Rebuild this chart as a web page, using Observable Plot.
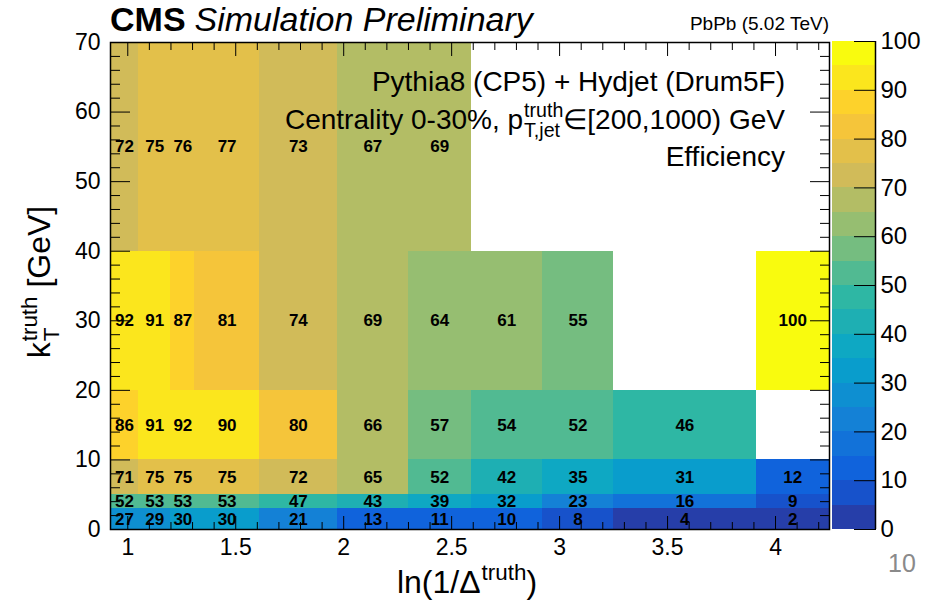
<!DOCTYPE html>
<html>
<head>
<meta charset="utf-8">
<script src="https://cdn.jsdelivr.net/npm/d3@7"></script>
<script src="https://cdn.jsdelivr.net/npm/@observablehq/plot@0.6"></script>
<style>
  body { margin: 0; background: #fff; }
  #chart { position: relative; width: 932px; height: 601px; overflow: hidden; background: #fff;
           font-family: "Liberation Sans", Arial, Helvetica, sans-serif; }
  #chart svg { position: absolute; top: 0; }
</style>
</head>
<body>
<div id="chart"></div>
<script>
// Bin edges: ln(1/Δ_truth) columns and k_T^truth rows (GeV)
const xEdges = [0.92, 1.05, 1.20, 1.31, 1.61, 1.97, 2.30, 2.59, 2.92, 3.25, 3.91, 4.25];
const yEdges = [0, 3, 5, 10, 20, 40, 70];

// Efficiency (%) per k_T row, listed column by column; null = empty bin
const eff_kT_0_3   = [27, 29, 30, 30, 21, 13, 11, 10, 8, 4, 2];
const eff_kT_3_5   = [52, 53, 53, 53, 47, 43, 39, 32, 23, 16, 9];
const eff_kT_5_10  = [71, 75, 75, 75, 72, 65, 52, 42, 35, 31, 12];
const eff_kT_10_20 = [86, 91, 92, 90, 80, 66, 57, 54, 52, 46, null];
const eff_kT_20_40 = [92, 91, 87, 81, 74, 69, 64, 61, 55, null, 100];
const eff_kT_40_70 = [72, 75, 76, 77, 73, 67, 69, null, null, null, null];

// Axis ticks
const xMajorTicks = [1, 1.5, 2, 2.5, 3, 3.5, 4];
const xMinorTicks = [1.1, 1.2, 1.3, 1.4, 1.6, 1.7, 1.8, 1.9, 2.1, 2.2, 2.3, 2.4, 2.6, 2.7, 2.8, 2.9,
                     3.1, 3.2, 3.3, 3.4, 3.6, 3.7, 3.8, 3.9, 4.1, 4.2];
const yMajorTicks = [0, 10, 20, 30, 40, 50, 60, 70];
const yMinorTicks = [2, 4, 6, 8, 12, 14, 16, 18, 22, 24, 26, 28, 32, 34, 36, 38, 42, 44, 46, 48,
                     52, 54, 56, 58, 62, 64, 66, 68];
const zTicks = [0, 10, 20, 30, 40, 50, 60, 70, 80, 90, 100];

// "Bird" palette stops, drawn with 20 contour levels between 0 and 100
const birdStops = [0.0000, 0.1250, 0.2500, 0.3750, 0.5000, 0.6250, 0.7500, 0.8750, 1.0000];
const birdRed   = [0.2082, 0.0592, 0.0780, 0.0232, 0.1802, 0.5301, 0.8186, 0.9956, 0.9764];
const birdGreen = [0.1664, 0.3599, 0.5041, 0.6419, 0.7178, 0.7492, 0.7328, 0.7862, 0.9832];
const birdBlue  = [0.5293, 0.8684, 0.8385, 0.7914, 0.6425, 0.4662, 0.3499, 0.1968, 0.0539];

const FONT = '"Liberation Sans", Arial, Helvetica, sans-serif';
const TICK_FONT = 23;

const bird = d3.scaleLinear()
  .domain(birdStops)
  .range(birdStops.map((_, k) => d3.rgb(birdRed[k] * 255, birdGreen[k] * 255, birdBlue[k] * 255).toString()))
  .interpolate(d3.interpolateRgb);
const nLevels = 20;
const zMax = 100;
const levelColors = d3.range(nLevels).map(i => bird(Math.min(1, (i + 0.99) / nLevels)));
const levelEdges = d3.range(1, nLevels).map(i => i * zMax / nLevels);
const colorScale = {type: "threshold", domain: levelEdges, range: levelColors};

// One record per filled bin
const rows = [eff_kT_0_3, eff_kT_3_5, eff_kT_5_10, eff_kT_10_20, eff_kT_20_40, eff_kT_40_70];
const cells = rows.flatMap((row, j) => row.map((v, i) => v == null ? null : {
  x1: xEdges[i], x2: xEdges[i + 1], y1: yEdges[j], y2: yEdges[j + 1], v
})).filter(Boolean);

const blank = () => "";

const main = Plot.plot({
  width: 932, height: 601,
  marginLeft: 110, marginRight: 103, marginTop: 42, marginBottom: 72,
  x: {domain: [xEdges[0], xEdges[xEdges.length - 1]], label: null},
  y: {domain: [yEdges[0], yEdges[yEdges.length - 1]], label: null},
  color: colorScale,
  style: {fontFamily: FONT, background: "white", overflow: "visible"},
  marks: [
    Plot.rect(cells, {x1: "x1", x2: "x2", y1: "y1", y2: "y2", fill: "v", shapeRendering: "crispEdges"}),
    Plot.text(cells, {
      x: d => (d.x1 + d.x2) / 2, y: d => (d.y1 + d.y2) / 2,
      text: d => d3.format(".0f")(d.v), fontSize: 17, fontWeight: "bold", fill: "black"
    }),
    Plot.axisX(xMinorTicks, {anchor: "bottom", tickSize: -7, tickFormat: blank, label: null}),
    Plot.axisX(xMajorTicks, {anchor: "bottom", tickSize: -13, tickPadding: 22, fontSize: TICK_FONT,
                             tickFormat: d => d3.format("")(d), label: null, fill: "black"}),
    Plot.axisX(xMinorTicks, {anchor: "top", tickSize: -7, tickFormat: blank, label: null}),
    Plot.axisX(xMajorTicks, {anchor: "top", tickSize: -13, tickFormat: blank, label: null}),
    Plot.axisY(yMinorTicks, {anchor: "left", tickSize: -10, tickFormat: blank, label: null}),
    Plot.axisY(yMajorTicks, {anchor: "left", tickSize: -20, tickPadding: 30, fontSize: TICK_FONT,
                             label: null, fill: "black"}),
    Plot.axisY(yMinorTicks, {anchor: "right", tickSize: -10, tickFormat: blank, label: null}),
    Plot.axisY(yMajorTicks, {anchor: "right", tickSize: -20, tickFormat: blank, label: null}),
    Plot.frame({stroke: "black", strokeWidth: 1.5})
  ]
});
main.style.left = "0px";

// Palette bar with its own axis on the right
const levels = d3.range(0, zMax, zMax / nLevels);
const bar = Plot.plot({
  width: 100, height: 601,
  marginLeft: 0, marginRight: 57, marginTop: 41, marginBottom: 72,
  x: {domain: [0, 1], axis: null},
  y: {domain: [0, zMax], label: null},
  color: colorScale,
  style: {fontFamily: FONT, background: "transparent", overflow: "visible"},
  marks: [
    Plot.rect(levels, {x1: () => 0, x2: () => 1, y1: d => d, y2: d => d + zMax / nLevels,
                       fill: d => d + zMax / nLevels / 2, shapeRendering: "crispEdges"}),
    Plot.axisY(zTicks, {anchor: "right", tickSize: -22, tickPadding: 27, fontSize: TICK_FONT + 1,
                        label: null, fill: "black"}),
    Plot.ruleX([1], {stroke: "black", strokeWidth: 1.5})
  ]
});
bar.style.left = "832px";

const chart = document.getElementById("chart");
chart.appendChild(main);
chart.appendChild(bar);

// Text with stacked super/subscripts, positioned after measuring
function richLine(parent, x, y, anchor, size, segs) {
  const g = parent.append("g").attr("font-family", FONT).attr("fill", "black").attr("text-anchor", "start");
  let cx = 0;
  for (const s of segs) {
    if (s.t) {
      const el = g.append("text").attr("x", cx).attr("y", 0).attr("font-size", size).text(s.t);
      cx += el.node().getComputedTextLength();
    }
    let w = 0;
    if (s.sup) {
      const el = g.append("text").attr("x", cx + 1).attr("y", -0.42 * size).attr("font-size", 0.7 * size).text(s.sup);
      w = Math.max(w, el.node().getComputedTextLength() + 1);
    }
    if (s.sub) {
      const el = g.append("text").attr("x", cx + 1).attr("y", 0.28 * size).attr("font-size", 0.7 * size).text(s.sub);
      w = Math.max(w, el.node().getComputedTextLength() + 1);
    }
    cx += w;
  }
  const x0 = anchor === "end" ? x - cx : anchor === "middle" ? x - cx / 2 : x;
  g.attr("transform", `translate(${x0},${y})`);
  return g;
}

const svg = d3.select(main);
const notes = svg.append("g").attr("font-family", FONT).attr("fill", "black").attr("text-anchor", "start");

const head = notes.append("text").attr("x", 110).attr("y", 31).attr("font-size", 34);
head.append("tspan").attr("font-weight", "bold").text("CMS");
head.append("tspan").attr("dx", 9).attr("font-style", "italic").text("Simulation Preliminary");

notes.append("text").attr("x", 829).attr("y", 30).attr("text-anchor", "end")
  .attr("font-size", 19).text("PbPb (5.02 TeV)");

richLine(notes, 785, 91, "end", 28, [{t: "Pythia8 (CP5) + Hydjet (Drum5F)"}]);
richLine(notes, 785, 129, "end", 28, [
  {t: "Centrality 0-30%, p", sup: "truth", sub: "T,jet"},
  {t: "\u2208[200,1000) GeV"}
]);
richLine(notes, 785, 166, "end", 28, [{t: "Efficiency"}]);

// Axis titles
richLine(notes, 467, 593, "middle", 32, [{t: "ln(1/\u0394", sup: "truth"}, {t: ")"}]);
const yTitle = notes.append("g").attr("transform", "translate(50,282) rotate(-90)");
richLine(yTitle, 0, 0, "middle", 32, [{t: "k", sup: "truth", sub: "T"}, {t: " [GeV]"}]);

notes.append("text").attr("x", 902).attr("y", 572).attr("text-anchor", "middle")
  .attr("font-size", 25).attr("fill", "#8a8a8a").text("10");
</script>
</body>
</html>
